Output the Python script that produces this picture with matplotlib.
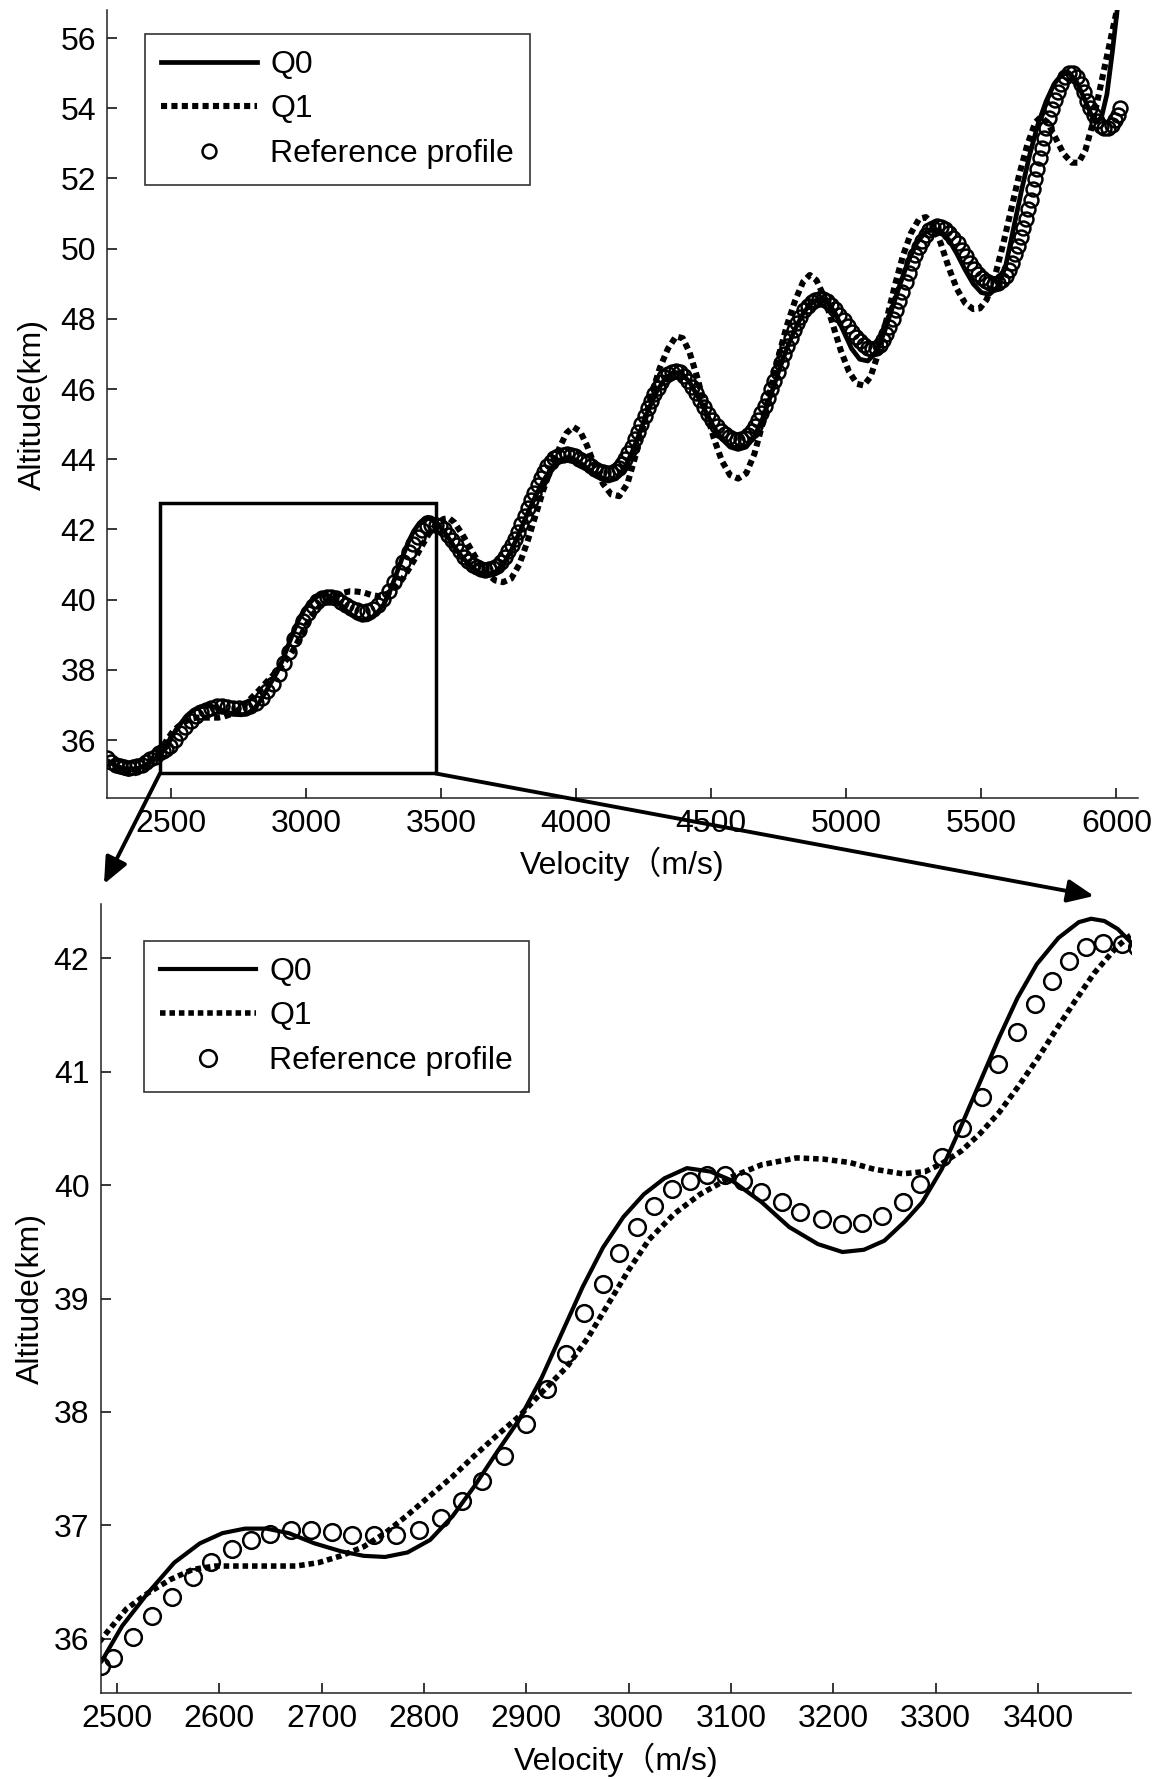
import numpy as np
import matplotlib.pyplot as plt
from matplotlib.patches import Rectangle, ConnectionPatch
from matplotlib.lines import Line2D

plt.rcParams['font.family'] = ['Liberation Sans', 'Noto Sans CJK SC']
plt.rcParams['font.size'] = 23

# reference profile (circles), velocity m/s / altitude km
ref_v = [2264, 2280, 2296, 2312, 2328, 2344, 2360, 2376, 2392, 2408, 2424, 2440, 2456, 2472, 2484,
         2496, 2516, 2534, 2554, 2574, 2592, 2612, 2631, 2650, 2670, 2690, 2710, 2730, 2751, 2773,
         2795, 2817, 2837, 2857, 2878, 2900, 2920, 2939, 2956, 2975, 2991, 3008, 3025, 3042, 3060,
         3077, 3094, 3112, 3129, 3150, 3168, 3189, 3209, 3228, 3248, 3268, 3285, 3306, 3326, 3345,
         3361, 3380, 3397, 3414, 3430, 3447, 3464, 3482,
         3497, 3512, 3527, 3542, 3557, 3572, 3587, 3602, 3617, 3632, 3647, 3662, 3677, 3692, 3707,
         3722, 3737, 3750, 3762, 3774, 3786, 3798, 3810, 3822, 3834, 3846, 3858, 3870, 3882, 3894,
         3906, 3920, 3935, 3950, 3965, 3980, 3995, 4010, 4025, 4040, 4055, 4070, 4085, 4100, 4115,
         4130, 4145, 4158, 4170, 4182, 4194, 4206, 4218, 4230, 4242, 4254, 4266, 4278, 4290, 4302,
         4314, 4326, 4340, 4355, 4370, 4385, 4400, 4415, 4430, 4445, 4460, 4475, 4490, 4505, 4520,
         4535, 4550, 4565, 4580, 4595, 4610, 4625, 4638, 4650, 4662, 4674, 4686, 4698, 4710, 4722,
         4734, 4746, 4758, 4770, 4782, 4794, 4806, 4818, 4830, 4844, 4858, 4872, 4886, 4900, 4915,
         4930, 4945, 4960, 4975, 4990, 5005, 5020, 5035, 5050, 5065, 5080, 5095, 5110, 5124, 5136,
         5148, 5160, 5172, 5184, 5196, 5208, 5220, 5232, 5244, 5256, 5268, 5280, 5294, 5308, 5322,
         5337, 5352, 5367, 5382, 5397, 5412, 5427, 5442, 5457, 5472, 5487, 5502, 5517, 5532, 5547,
         5562, 5576, 5590, 5602, 5614, 5626, 5636, 5646, 5656, 5665, 5674, 5683, 5692, 5700, 5708,
         5716, 5724, 5732, 5741, 5750, 5760, 5771, 5783, 5796, 5810, 5825, 5840, 5855, 5868, 5880,
         5892, 5904, 5916, 5929, 5942, 5956, 5970, 5983, 5995, 6005, 6013]
ref_h = [35.48, 35.38, 35.30, 35.25, 35.22, 35.21, 35.22, 35.25, 35.30, 35.37, 35.45, 35.53, 35.62, 35.70, 35.76,
         35.83, 36.01, 36.20, 36.37, 36.54, 36.68, 36.79, 36.87, 36.92, 36.96, 36.96, 36.94, 36.91, 36.91, 36.91,
         36.96, 37.06, 37.21, 37.39, 37.61, 37.89, 38.20, 38.51, 38.87, 39.13, 39.40, 39.63, 39.82, 39.97, 40.04,
         40.09, 40.09, 40.04, 39.94, 39.85, 39.76, 39.70, 39.66, 39.67, 39.73, 39.85, 40.01, 40.25, 40.50, 40.78,
         41.07, 41.35, 41.60, 41.80, 41.98, 42.10, 42.14, 42.13,
         42.10, 42.00, 41.85, 41.70, 41.55, 41.38, 41.23, 41.10, 41.00, 40.92, 40.87, 40.85, 40.86, 40.90, 40.97,
         41.08, 41.22, 41.38, 41.55, 41.74, 41.94, 42.15, 42.37, 42.60, 42.83, 43.05, 43.27, 43.47, 43.65, 43.80,
         43.93, 44.03, 44.10, 44.13, 44.14, 44.12, 44.08, 44.02, 43.95, 43.88, 43.80, 43.73, 43.67, 43.63, 43.61,
         43.62, 43.67, 43.75, 43.86, 44.00, 44.17, 44.36, 44.57, 44.79, 45.01, 45.23, 45.45, 45.66, 45.86, 46.04,
         46.20, 46.33, 46.44, 46.50, 46.52, 46.48, 46.38, 46.24, 46.07, 45.88, 45.68, 45.48, 45.29, 45.11, 44.95,
         44.82, 44.71, 44.63, 44.58, 44.56, 44.57, 44.62, 44.70, 44.81, 44.95, 45.12, 45.31, 45.52, 45.75, 45.99,
         46.24, 46.49, 46.74, 46.99, 47.23, 47.46, 47.68, 47.88, 48.06, 48.24, 48.38, 48.48, 48.55, 48.58, 48.56,
         48.50, 48.40, 48.27, 48.12, 47.96, 47.80, 47.64, 47.49, 47.36, 47.25, 47.18, 47.15, 47.18, 47.27, 47.40,
         47.57, 47.77, 48.00, 48.25, 48.51, 48.78, 49.05, 49.32, 49.58, 49.82, 50.04, 50.23, 50.40, 50.52, 50.60,
         50.64, 50.63, 50.56, 50.45, 50.31, 50.15, 49.97, 49.79, 49.60, 49.43, 49.28, 49.16, 49.07, 49.02, 49.00,
         49.03, 49.10, 49.22, 49.39, 49.60, 49.84, 50.07, 50.32, 50.58, 50.84, 51.12, 51.40, 51.69, 51.98, 52.27,
         52.57, 52.87, 53.16, 53.45, 53.72, 53.98, 54.23, 54.47, 54.69, 54.88, 55.00, 55.00, 54.88, 54.68, 54.45,
         54.22, 54.00, 53.80, 53.63, 53.50, 53.44, 53.45, 53.53, 53.66, 53.82, 54.00]

# Q0 (solid)
q0_v = [2264, 2290, 2320, 2350, 2380, 2410, 2440, 2465,
        2485, 2505, 2530, 2556, 2581, 2603, 2625, 2646, 2668, 2693, 2719, 2741, 2762, 2784, 2806, 2828,
        2849, 2871, 2893, 2915, 2935, 2955, 2975, 2995, 3015, 3035, 3057, 3080, 3101, 3130, 3157, 3185,
        3209, 3230, 3250, 3270, 3287, 3306, 3324, 3343, 3362, 3380, 3399, 3420, 3440, 3452, 3465, 3478,
        3490, 3520, 3550, 3580, 3610, 3640, 3670, 3700, 3730, 3760, 3790, 3820, 3850, 3880, 3910, 3940,
        3970, 4000, 4030, 4060, 4090, 4120, 4150, 4180, 4210, 4240, 4270, 4300, 4330, 4360, 4390, 4420,
        4450, 4480, 4510, 4540, 4570, 4600, 4630, 4660, 4690, 4720, 4750, 4780, 4810, 4840, 4870, 4900,
        4930, 4960, 4990, 5020, 5050, 5080, 5110, 5140, 5170, 5200, 5230, 5260, 5290, 5320, 5350, 5380,
        5410, 5440, 5470, 5500, 5530, 5560, 5590, 5620, 5650, 5680, 5710, 5740, 5770, 5800, 5825, 5850,
        5880, 5905, 5925, 5945, 5965, 5985, 6000, 6015]
q0_h = [35.42, 35.30, 35.20, 35.17, 35.20, 35.30, 35.45, 35.62,
        35.80, 36.11, 36.40, 36.67, 36.84, 36.93, 36.97, 36.97, 36.93, 36.84, 36.77, 36.73, 36.72, 36.76, 36.87, 37.08,
        37.34, 37.64, 37.93, 38.30, 38.70, 39.10, 39.45, 39.72, 39.92, 40.06, 40.15, 40.12, 40.04, 39.85, 39.63, 39.48,
        39.41, 39.43, 39.51, 39.68, 39.85, 40.14, 40.50, 40.90, 41.30, 41.65, 41.95, 42.18, 42.32, 42.35, 42.33, 42.26,
        42.15, 41.85, 41.50, 41.20, 40.95, 40.78, 40.72, 40.78, 41.00, 41.40, 41.90, 42.45, 42.95, 43.40, 43.75, 43.98,
        44.05, 43.98, 43.82, 43.62, 43.45, 43.38, 43.45, 43.75, 44.25, 44.85, 45.45, 45.95, 46.30, 46.48, 46.45, 46.20,
        45.80, 45.35, 44.92, 44.58, 44.35, 44.28, 44.35, 44.65, 45.15, 45.80, 46.50, 47.15, 47.70, 48.15, 48.45, 48.58,
        48.50, 48.15, 47.65, 47.15, 46.85, 46.80, 47.05, 47.60, 48.30, 49.00, 49.65, 50.15, 50.45, 50.55, 50.50, 50.25,
        49.85, 49.40, 49.00, 48.75, 48.70, 48.90, 49.50, 50.60, 51.70, 52.70, 53.55, 54.20, 54.70, 54.98, 55.00, 54.80,
        54.30, 53.85, 53.60, 53.75, 54.40, 55.60, 56.60, 57.60]

# Q1 (dotted)
q1_v = [2264, 2290, 2320, 2350, 2380, 2410, 2440, 2465,
        2487, 2509, 2530, 2552, 2574, 2596, 2621, 2646, 2675, 2697, 2719, 2741, 2762, 2784, 2806, 2828,
        2849, 2871, 2893, 2915, 2940, 2960, 2980, 3000, 3020, 3045, 3070, 3100, 3130, 3164, 3190, 3216,
        3240, 3268, 3290, 3306, 3325, 3343, 3362, 3380, 3400, 3417, 3436, 3455, 3477, 3490, 3510, 3530,
        3550, 3580, 3610, 3640, 3670, 3700, 3730, 3760, 3790, 3820, 3850, 3880, 3910, 3940, 3965, 3990,
        4015, 4040, 4070, 4100, 4130, 4160, 4190, 4220, 4250, 4280, 4310, 4340, 4370, 4395, 4420, 4450,
        4480, 4510, 4540, 4570, 4600, 4630, 4660, 4690, 4720, 4750, 4780, 4810, 4840, 4865, 4890, 4920,
        4950, 4980, 5010, 5040, 5065, 5090, 5120, 5150, 5180, 5210, 5240, 5270, 5295, 5320, 5350, 5380,
        5410, 5440, 5470, 5495, 5520, 5550, 5580, 5610, 5640, 5670, 5700, 5720, 5745, 5775, 5805, 5835,
        5860, 5885, 5910, 5935, 5960, 5985, 6005, 6020]
q1_h = [35.40, 35.22, 35.08, 35.03, 35.08, 35.25, 35.50, 35.75,
        36.02, 36.26, 36.40, 36.52, 36.61, 36.64, 36.64, 36.64, 36.64, 36.67, 36.73, 36.81, 36.93, 37.09, 37.26, 37.43,
        37.61, 37.79, 37.96, 38.17, 38.40, 38.65, 38.95, 39.25, 39.52, 39.75, 39.92, 40.07, 40.18, 40.24, 40.23, 40.20,
        40.14, 40.10, 40.12, 40.19, 40.30, 40.45, 40.64, 40.86, 41.12, 41.36, 41.62, 41.87, 42.10, 42.20, 42.30, 42.32,
        42.20, 41.85, 41.45, 41.05, 40.75, 40.55, 40.50, 40.60, 41.00, 41.65, 42.40, 43.15, 43.80, 44.35, 44.75, 44.92,
        44.80, 44.40, 43.80, 43.30, 43.00, 42.95, 43.30, 44.10, 45.00, 45.85, 46.60, 47.15, 47.50, 47.45, 47.05, 46.30,
        45.40, 44.60, 43.95, 43.55, 43.45, 43.60, 44.15, 45.00, 46.00, 46.95, 47.80, 48.50, 49.05, 49.25, 49.10, 48.60,
        47.85, 47.10, 46.50, 46.15, 46.10, 46.35, 47.05, 48.00, 48.95, 49.80, 50.45, 50.85, 50.90, 50.70, 50.15, 49.45,
        48.85, 48.45, 48.28, 48.30, 48.55, 49.20, 50.10, 51.10, 52.10, 52.95, 53.60, 53.75, 53.60, 53.15, 52.70, 52.45,
        52.45, 52.80, 53.50, 54.40, 55.30, 56.20, 56.90, 57.60]

labels = ['Q0', 'Q1', 'Reference profile']
top_xticks = [2500, 3000, 3500, 4000, 4500, 5000, 5500, 6000]
top_yticks = [36, 38, 40, 42, 44, 46, 48, 50, 52, 54, 56]
bot_xticks = [2500, 2600, 2700, 2800, 2900, 3000, 3100, 3200, 3300, 3400]
bot_yticks = [36, 37, 38, 39, 40, 41, 42]

top_xlim = (2264, 6080)
top_ylim = (34.35, 56.8)
bot_xlim = (2484, 3491)
bot_ylim = (35.52, 42.48)
# box drawn on the top panel marking the enlarged part
zoom_v = (2460, 3480)
zoom_h = (35.05, 42.75)

W, H = 1157, 1779
fig = plt.figure(figsize=(W / 100, H / 100), dpi=100)
ax1 = fig.add_axes([107 / W, 1 - 798 / H, 1031 / W, 788 / H])
ax2 = fig.add_axes([100.6 / W, 1 - 1693 / H, 1030.4 / W, 789 / H])

dash = (0, (1, 0.7))


def draw(ax, ms, mew, lw0, lw1):
    ax.plot(q0_v, q0_h, color='black', lw=lw0, solid_capstyle='round', zorder=2)
    ax.plot(q1_v, q1_h, color='black', lw=lw1, linestyle=dash, dash_capstyle='butt', zorder=2)
    ax.plot(ref_v, ref_h, 'o', mfc='none', mec='black', ms=ms, mew=mew, zorder=3)
    handles = [Line2D([], [], color='black', lw=lw0),
               Line2D([], [], color='black', lw=lw1, linestyle=dash),
               Line2D([], [], color='black', marker='o', mfc='none', ms=ms, mew=mew, lw=0)]
    return handles


def style(ax):
    for s in ['top', 'right']:
        ax.spines[s].set_visible(False)
    for s in ['left', 'bottom']:
        ax.spines[s].set_color('#222222')
        ax.spines[s].set_linewidth(1.1)
    ax.tick_params(direction='in', length=7.5, width=1.1, pad=8, labelsize=23, colors='black')
    ax.set_ylabel('Altitude(km)', fontsize=23)
    ax.set_xlabel('Velocity（m/s)', fontsize=23)


def add_legend(ax, handles, anchor):
    leg = ax.legend(handles, labels, loc='upper left', bbox_to_anchor=anchor, borderaxespad=0,
                    fancybox=False, edgecolor='#333333', framealpha=1, handlelength=3.0,
                    handletextpad=0.42, labelspacing=0.45, borderpad=0.5, fontsize=23)
    leg.get_frame().set_linewidth(1.2)


# top panel
h1 = draw(ax1, 10, 1.8, 3.4, 4.4)
ax1.set_xlim(*top_xlim)
ax1.set_ylim(*top_ylim)
ax1.set_xticks(top_xticks)
ax1.set_yticks(top_yticks)
style(ax1)
ax1.yaxis.set_label_coords(-0.057, 0.5)
ax1.xaxis.set_label_coords(0.5, -0.062)
add_legend(ax1, h1, (0.037, 0.9695))

ax1.add_patch(Rectangle((zoom_v[0], zoom_h[0]), zoom_v[1] - zoom_v[0], zoom_h[1] - zoom_h[0],
                        fill=False, lw=2.5, edgecolor='black', zorder=5))

# bottom panel
h2 = draw(ax2, 12, 1.8, 3.0, 4.0)
ax2.set_xlim(*bot_xlim)
ax2.set_ylim(*bot_ylim)
ax2.set_xticks(bot_xticks)
ax2.set_yticks(bot_yticks)
style(ax2)
ax2.yaxis.set_label_coords(-0.053, 0.5)
ax2.xaxis.set_label_coords(0.5, -0.063)
add_legend(ax2, h2, (0.042, 0.953))

# arrows from the box corners down to the enlarged panel
targets = [((zoom_v[0], zoom_h[0]), (104, 884)), ((zoom_v[1], zoom_h[0]), (1094, 896))]
for xyA, (px, py) in targets:
    con = ConnectionPatch(xyA=xyA, coordsA=ax1.transData, xyB=(px / W, 1 - py / H),
                          coordsB=fig.transFigure,
                          arrowstyle='-|>,head_length=0.8,head_width=0.35', mutation_scale=20,
                          lw=2.8, color='black', shrinkA=0, shrinkB=0)
    fig.add_artist(con)

fig.savefig('out.png', dpi=100)
